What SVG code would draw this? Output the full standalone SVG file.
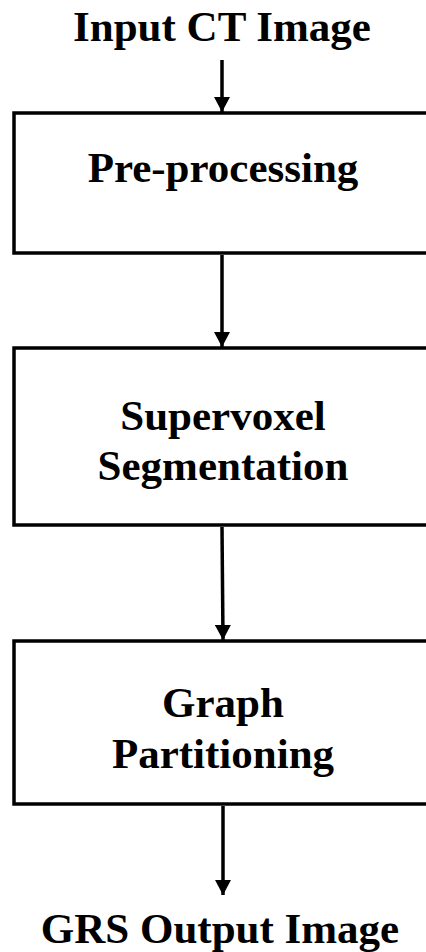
<svg xmlns="http://www.w3.org/2000/svg" width="426" height="952" viewBox="0 0 426 952">
<defs>
<style>
.box{fill:#fff;stroke:#000;stroke-width:3.5}
.t{font-family:"Liberation Serif","Times New Roman",serif;font-weight:bold;font-size:43px;fill:#000;text-anchor:middle}
.c{stroke:#000;stroke-width:3.5;fill:none}
</style>
<marker id="ah" markerWidth="15" markerHeight="16" refX="15" refY="8" orient="auto" markerUnits="userSpaceOnUse" viewBox="0 0 15 16">
<path d="M0,0 L15,8 L0,16 Z" fill="#000"/>
</marker>
</defs>
<g id="input"><text class="t" x="222" y="41">Input CT Image</text></g>
<g id="preprocessing"><rect class="box" x="14" y="113" width="420" height="140"/><text class="t" x="223" y="182">Pre-processing</text></g>
<g id="supervoxel"><rect class="box" x="14" y="348" width="420" height="177"/><text class="t" x="223" y="430">Supervoxel</text><text class="t" x="223" y="480">Segmentation</text></g>
<g id="graph"><rect class="box" x="14" y="641" width="420" height="163"/><text class="t" x="223" y="717">Graph</text><text class="t" x="223" y="768">Partitioning</text></g>
<g id="output"><text class="t" x="220" y="943">GRS Output Image</text></g>
<g id="connectors">
<line class="c" x1="222" y1="60" x2="222" y2="112" marker-end="url(#ah)"/>
<line class="c" x1="222" y1="255" x2="222" y2="347" marker-end="url(#ah)"/>
<line class="c" x1="222" y1="527" x2="223" y2="640" marker-end="url(#ah)"/>
<line class="c" x1="223" y1="806" x2="223" y2="895" marker-end="url(#ah)"/>
</g>
</svg>
